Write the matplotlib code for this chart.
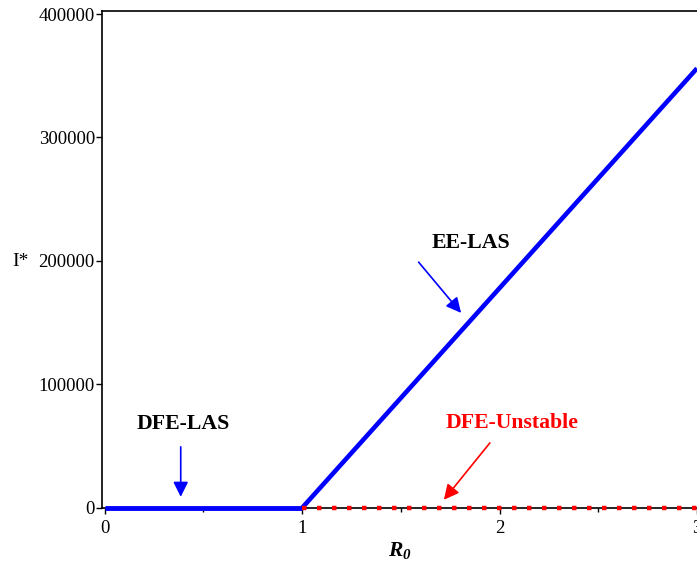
import matplotlib
matplotlib.use("Agg")
import matplotlib.pyplot as plt
from matplotlib.ticker import MultipleLocator

plt.rcParams['font.family'] = ['Liberation Serif', 'DejaVu Serif']
plt.rcParams['mathtext.fontset'] = 'custom'
plt.rcParams['mathtext.it'] = 'Liberation Serif:italic:bold'
plt.rcParams['mathtext.rm'] = 'Liberation Serif:italic:bold'

# disease-free branch (stable below threshold)
dfe_stable_r0 = [0.0, 1.0]
dfe_stable_i = [0.0, 0.0]
# disease-free branch (unstable above threshold)
dfe_unstable_r0 = [1.0, 3.0]
dfe_unstable_i = [0.0, 0.0]
# endemic branch
ee_r0 = [1.0, 3.0]
ee_i = [0.0, 356000.0]

y_ticks = [0, 100000, 200000, 300000, 400000]
x_ticks = [0, 1, 2, 3]

fig = plt.figure(figsize=(6.97, 5.63), dpi=100)
ax = fig.add_axes([0.146, 0.098, 0.854, 0.883])

ax.plot(dfe_stable_r0, dfe_stable_i, color='blue', lw=3.5, solid_capstyle='butt',
        zorder=5, clip_on=False)
ax.plot(ee_r0, ee_i, color='blue', lw=3.3, solid_capstyle='butt', zorder=5)
ax.plot(dfe_unstable_r0, dfe_unstable_i, color='red', lw=3.2, dashes=(1, 2.375),
        dash_capstyle='butt', zorder=5, clip_on=False)

ax.set_xlim(-0.015, 3.0)
ax.set_ylim(0, 402700)
ax.set_xticks(x_ticks)
ax.set_xticklabels([str(t) for t in x_ticks])
ax.xaxis.set_minor_locator(MultipleLocator(0.5))
ax.set_yticks(y_ticks)
ax.set_yticklabels([str(t) for t in y_ticks])
ax.tick_params(axis='both', which='major', direction='out', length=4, width=1,
               labelsize=13.5, pad=1)
ax.tick_params(axis='x', which='major', pad=5)
ax.tick_params(axis='x', which='minor', direction='out', length=3, width=1)
for s in ax.spines.values():
    s.set_linewidth(1.2)
ax.spines['right'].set_visible(False)

ax.set_xlabel(r'$R_0$', fontsize=15.5, labelpad=2)
ax.set_ylabel('I*', fontsize=14, rotation=0, va='center', ha='center')
ax.yaxis.set_label_coords(-0.136, 0.495)

arrow_blue = dict(arrowstyle='-|>,head_length=0.9,head_width=0.45', color='blue', lw=1.2,
                  shrinkA=0, shrinkB=0)
arrow_red = dict(arrowstyle='-|>,head_length=0.9,head_width=0.45', color='red', lw=1.2,
                 shrinkA=0, shrinkB=0)

ax.text(0.40, 68000, 'DFE-LAS', fontsize=15.7, fontweight='bold', ha='center', va='center')
ax.annotate('', xy=(0.385, 8900), xytext=(0.385, 49400), arrowprops=arrow_blue)

ax.text(1.855, 214600, 'EE-LAS', fontsize=15.7, fontweight='bold', ha='center', va='center')
ax.annotate('', xy=(1.805, 157900), xytext=(1.59, 199000), arrowprops=arrow_blue)

ax.text(2.063, 68800, 'DFE-Unstable', fontsize=15.7, fontweight='bold', color='red',
        ha='center', va='center')
ax.annotate('', xy=(1.718, 6500), xytext=(1.951, 52600), arrowprops=arrow_red)

fig.savefig('out.png', dpi=100)
